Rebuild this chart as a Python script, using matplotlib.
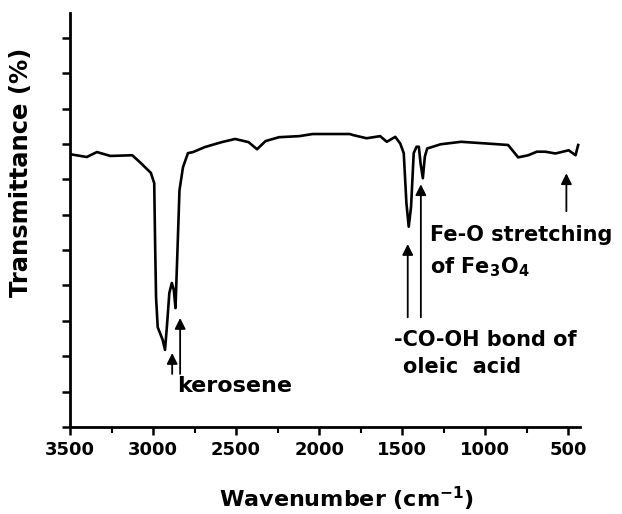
import matplotlib
matplotlib.use("Agg")
import matplotlib.pyplot as plt
from matplotlib.ticker import MultipleLocator

# FTIR spectrum of oleic-acid coated Fe3O4 in kerosene
wavenumber = [3500, 3399, 3338, 3257, 3125, 3074, 3013, 2993, 2988, 2982,
              2972, 2942, 2928, 2916, 2902, 2887, 2875, 2865, 2851, 2841,
              2820, 2790, 2759, 2689, 2587, 2506, 2425, 2374, 2323, 2242,
              2120, 2039, 1816, 1796, 1715, 1633, 1593, 1542, 1512, 1491,
              1475, 1461, 1447, 1431, 1414, 1400, 1390, 1376, 1364, 1350,
              1269, 1146, 985, 863, 802, 741, 690, 639, 578, 498, 457, 441]
transmittance = [7.71, 7.63, 7.77, 7.66, 7.68, 7.46, 7.18, 6.89, 5.28, 3.67,
                 2.82, 2.46, 2.18, 2.88, 3.79, 4.07, 3.87, 3.36, 5.28, 6.69,
                 7.34, 7.74, 7.77, 7.91, 8.05, 8.14, 8.05, 7.85, 8.08, 8.19,
                 8.22, 8.28, 8.28, 8.25, 8.16, 8.22, 8.06, 8.20, 8.01, 7.74,
                 6.33, 5.66, 6.22, 7.74, 7.92, 7.92, 7.46, 7.03, 7.64, 7.87,
                 7.99, 8.06, 8.01, 7.97, 7.62, 7.68, 7.78, 7.78, 7.73, 7.82,
                 7.68, 7.97]

# arrows: (wavenumber, tail y, head y)
arrows = [(2885, 1.5, 2.09),
          (2837, 1.5, 3.08),
          (1467, 3.1, 5.17),
          (1388, 3.1, 6.86),
          (512, 6.1, 7.17)]

# label text, left x (wavenumber), centre y, font size
labels = [("kerosene", 2857, 1.15, 16),
          ("-CO-OH bond of", 1547, 2.45, 15),
          ("oleic  acid", 1497, 1.69, 15),
          ("Fe-O stretching", 1333, 5.42, 15),
          ("of Fe$_\\mathregular{3}$O$_\\mathregular{4}$", 1333, 4.52, 15)]

plt.rcParams["font.family"] = "DejaVu Sans"
plt.rcParams["font.weight"] = "bold"

W, H = 622, 514
fig = plt.figure(figsize=(W / 100, H / 100), dpi=100)
ax = fig.add_axes([70 / W, 87 / H, 510 / W, 414 / H])

ax.plot(wavenumber, transmittance, color="black", lw=1.9)

ax.set_xlim(3500, 430)
ax.set_ylim(0, 11.7)
ax.set_xticks([3500, 3000, 2500, 2000, 1500, 1000, 500])
ax.xaxis.set_minor_locator(MultipleLocator(250))
ax.yaxis.set_major_locator(MultipleLocator(1))
ax.set_yticklabels([])
ax.tick_params(axis="both", direction="out", width=1.8, length=6, which="major")
ax.tick_params(axis="x", which="minor", direction="out", width=1.5, length=4)
ax.tick_params(axis="x", labelsize=13, pad=4)
for lbl in ax.get_xticklabels():
    lbl.set_fontweight("bold")

for side in ("top", "right"):
    ax.spines[side].set_visible(False)
for side in ("left", "bottom"):
    ax.spines[side].set_linewidth(2)

# axis titles placed in figure pixels
fig.text(347 / W, 1 - 499 / H, "Wavenumber (cm$^{\\mathregular{-1}}$)",
         fontsize=16, fontweight="bold", ha="center", va="center")
fig.text(21 / W, 1 - 172 / H, "Transmittance (%)", fontsize=17.5,
         fontweight="bold", rotation=90, ha="center", va="center")

for x, y0, y1 in arrows:
    ax.annotate("", xy=(x, y1), xytext=(x, y0),
                arrowprops=dict(arrowstyle="-|>", color="black", lw=1.3,
                                mutation_scale=16, shrinkA=0, shrinkB=0))

for text, x, y, size in labels:
    ax.text(x, y, text, fontsize=size, fontweight="bold", ha="left", va="center")

fig.savefig("out.png", dpi=100)
